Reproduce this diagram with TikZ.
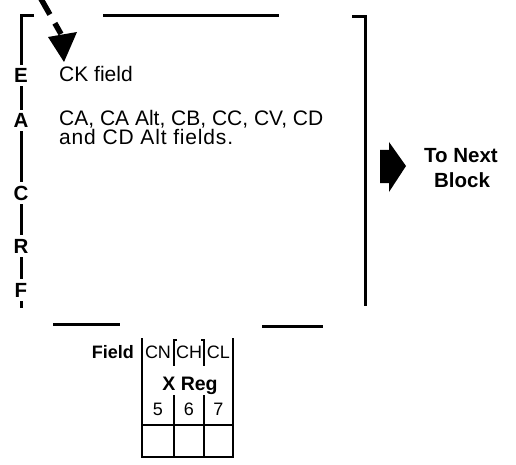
\documentclass[tikz,border=0pt]{standalone}
\usepackage{fontspec}
\setmainfont{Liberation Sans}
\begin{document}
\begin{tikzpicture}[x=1pt,y=-1pt,
  frame/.style={line width=3pt},
  tline/.style={line width=1.9pt},
  sidelabel/.style={font=\bfseries\fontsize{20.5}{20}\selectfont, fill=white, inner xsep=2pt, inner ysep=3.5pt, anchor=base},
  bodytext/.style={font=\fontsize{21}{16}\selectfont, inner sep=0pt, anchor=base west},
  celltext/.style={font=\fontsize{18}{18}\selectfont, inner sep=0pt, anchor=base},
  boldtext/.style={font=\bfseries\fontsize{18}{18}\selectfont, inner sep=0pt}
]
\useasboundingbox (0,0) rectangle (516,465);

% left bracket with letters
\coordinate (lt) at (34,16);
\coordinate (lc) at (21,16);
\coordinate (lb) at (21,308);
\draw[frame] (lt) -- (lc) -- (lb);
\node[sidelabel] (E) at (21,83) {E};
\node[sidelabel] (A) at (21,128) {A};
\node[sidelabel] (C) at (21,200) {C};
\node[sidelabel] (R) at (21,253) {R};
\node[sidelabel] (F) at (21,297) {F};

% top line
\coordinate (t1) at (103,16);
\coordinate (t2) at (279,16);
\draw[frame] (t1) -- (t2);

% right bracket
\coordinate (rt) at (352,17);
\coordinate (rc) at (365,17);
\coordinate (rb) at (365,306);
\draw[frame] (rt) -- (rc) -- (rb);

% bottom lines
\coordinate (b1) at (53,324);
\coordinate (b2) at (120,324);
\coordinate (b3) at (262,326);
\coordinate (b4) at (323,326);
\draw[frame] (b1) -- (b2);
\draw[frame] (b3) -- (b4);

% texts
\node[bodytext] (ck) at (59,82) {CK field};
\node[bodytext] (ca) at (59,126) {CA, CA Alt, CB, CC, CV, CD};
\node[bodytext] (cd) at (59,145) {\addfontfeature{LetterSpace=4}and CD Alt fields.};

% dashed entry arrow
\coordinate (as) at (40.5,-2);
\coordinate (ah) at (61,34);
\coordinate (hl) at (48,37);
\coordinate (hr) at (77,32);
\coordinate (tip) at (64,62);
\draw[line width=5.5pt, dash pattern=on 19pt off 10pt] (as) -- (ah);
\fill (hl) -- (hr) -- (tip) -- cycle;

% block arrow to next block
\fill (380,150) -- (389,150) -- (389,142) -- (406,166) -- (389,192) -- (389,183) -- (380,183) -- cycle;
\node[font=\bfseries\fontsize{20.5}{20}\selectfont, inner sep=0pt, anchor=base] (next) at (461,163) {To Next};
\node[font=\bfseries\fontsize{20.5}{20}\selectfont, inner sep=0pt, anchor=base] (block) at (462,187) {Block};

% field table
\node[boldtext, anchor=base east] (field) at (134,358) {Field};
\draw[tline] (142,338) -- (142,457);
\draw[tline] (233,338) -- (233,457);
\draw[line width=2.6pt] (141,457) -- (234,457);
\draw[tline] (142,425) -- (233,425);
\draw[tline] (174,395) -- (174,457);
\draw[tline] (204,395) -- (204,457);
\draw[line width=1.3pt] (177,340) -- (174,340) -- (174,366);
\draw[line width=1.3pt] (201,340) -- (204,340) -- (204,366);
\node[celltext] (cn) at (158,358) {CN};
\node[celltext] (ch) at (189,358) {CH};
\node[celltext] (cl) at (218.5,358) {CL};
\node[boldtext, anchor=base, font=\bfseries\fontsize{19.5}{19}\selectfont] (xreg) at (190,390) {X Reg};
\node[celltext] (c5) at (158,415) {5};
\node[celltext] (c6) at (189,415) {6};
\node[celltext] (c7) at (218.5,415) {7};
\end{tikzpicture}
\end{document}
